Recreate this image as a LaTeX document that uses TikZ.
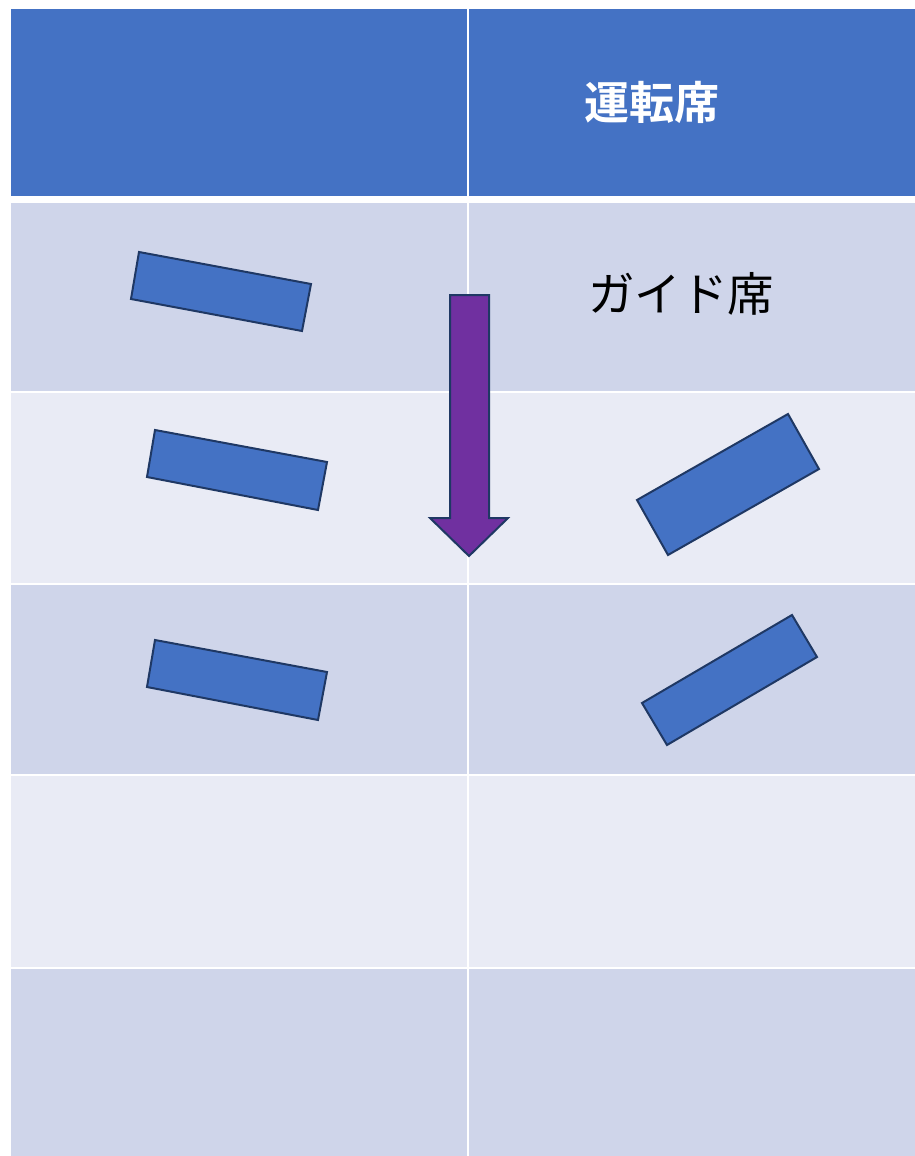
\documentclass[tikz,border=0pt]{standalone}
\usepackage{fontspec}
\newfontfamily\cjk{Noto Sans CJK JP}
\newfontfamily\cjkb{Noto Sans CJK JP Bold}
\definecolor{hdr}{HTML}{4472C4}
\definecolor{rowdark}{HTML}{CFD5EA}
\definecolor{rowlight}{HTML}{E9EBF5}
\definecolor{edge}{HTML}{1F3864}
\definecolor{purp}{HTML}{7030A0}
\tikzset{
  seat/.style={fill=hdr, draw=edge, line width=2pt, line join=miter},
  bigarrow/.style={fill=purp, draw=edge, line width=2pt, line join=miter},
}
\begin{document}
\begin{tikzpicture}[x=1pt,y=-1pt]
\useasboundingbox (0,0) rectangle (915,1156);
\fill[white] (0,0) rectangle (915,1156);
% header
\fill[hdr] (11,9) rectangle (466.5,196);
\fill[hdr] (469,9) rectangle (915,196);
% rows
\fill[rowdark] (11,203) rectangle (466.5,390.5);
\fill[rowdark] (469,203) rectangle (915,390.5);
\fill[rowlight] (11,392.5) rectangle (466.5,583);
\fill[rowlight] (469,392.5) rectangle (915,583);
\fill[rowdark] (11,585) rectangle (466.5,774);
\fill[rowdark] (469,585) rectangle (915,774);
\fill[rowlight] (11,776) rectangle (466.5,967);
\fill[rowlight] (469,776) rectangle (915,967);
\fill[rowdark] (11,969) rectangle (466.5,1156);
\fill[rowdark] (469,969) rectangle (915,1156);
% texts
\node[text=white, font=\cjkb\fontsize{45}{50}\selectfont, inner sep=0pt] (drv) at (652,102) {運転席};
\node[text=black, font=\cjk\fontsize{46.5}{50}\selectfont, inner sep=0pt] (gd) at (681,294) {ガイド席};
% seats
\draw[seat] (139,252) -- (311,284) -- (302,331) -- (131,299) -- cycle;
\draw[seat] (155,430) -- (327,462) -- (318,510) -- (147,477) -- cycle;
\draw[seat] (155,640) -- (327,672) -- (318,720) -- (147,687) -- cycle;
\draw[seat] (788,414) -- (819,469) -- (668,555) -- (637,500) -- cycle;
\draw[seat] (792,615) -- (817,657) -- (667,745) -- (642,703) -- cycle;
% arrow
\draw[bigarrow] (450,295) -- (489,295) -- (489,518) -- (508,518) -- (469,556) -- (430,518) -- (450,518) -- cycle;
\end{tikzpicture}
\end{document}
